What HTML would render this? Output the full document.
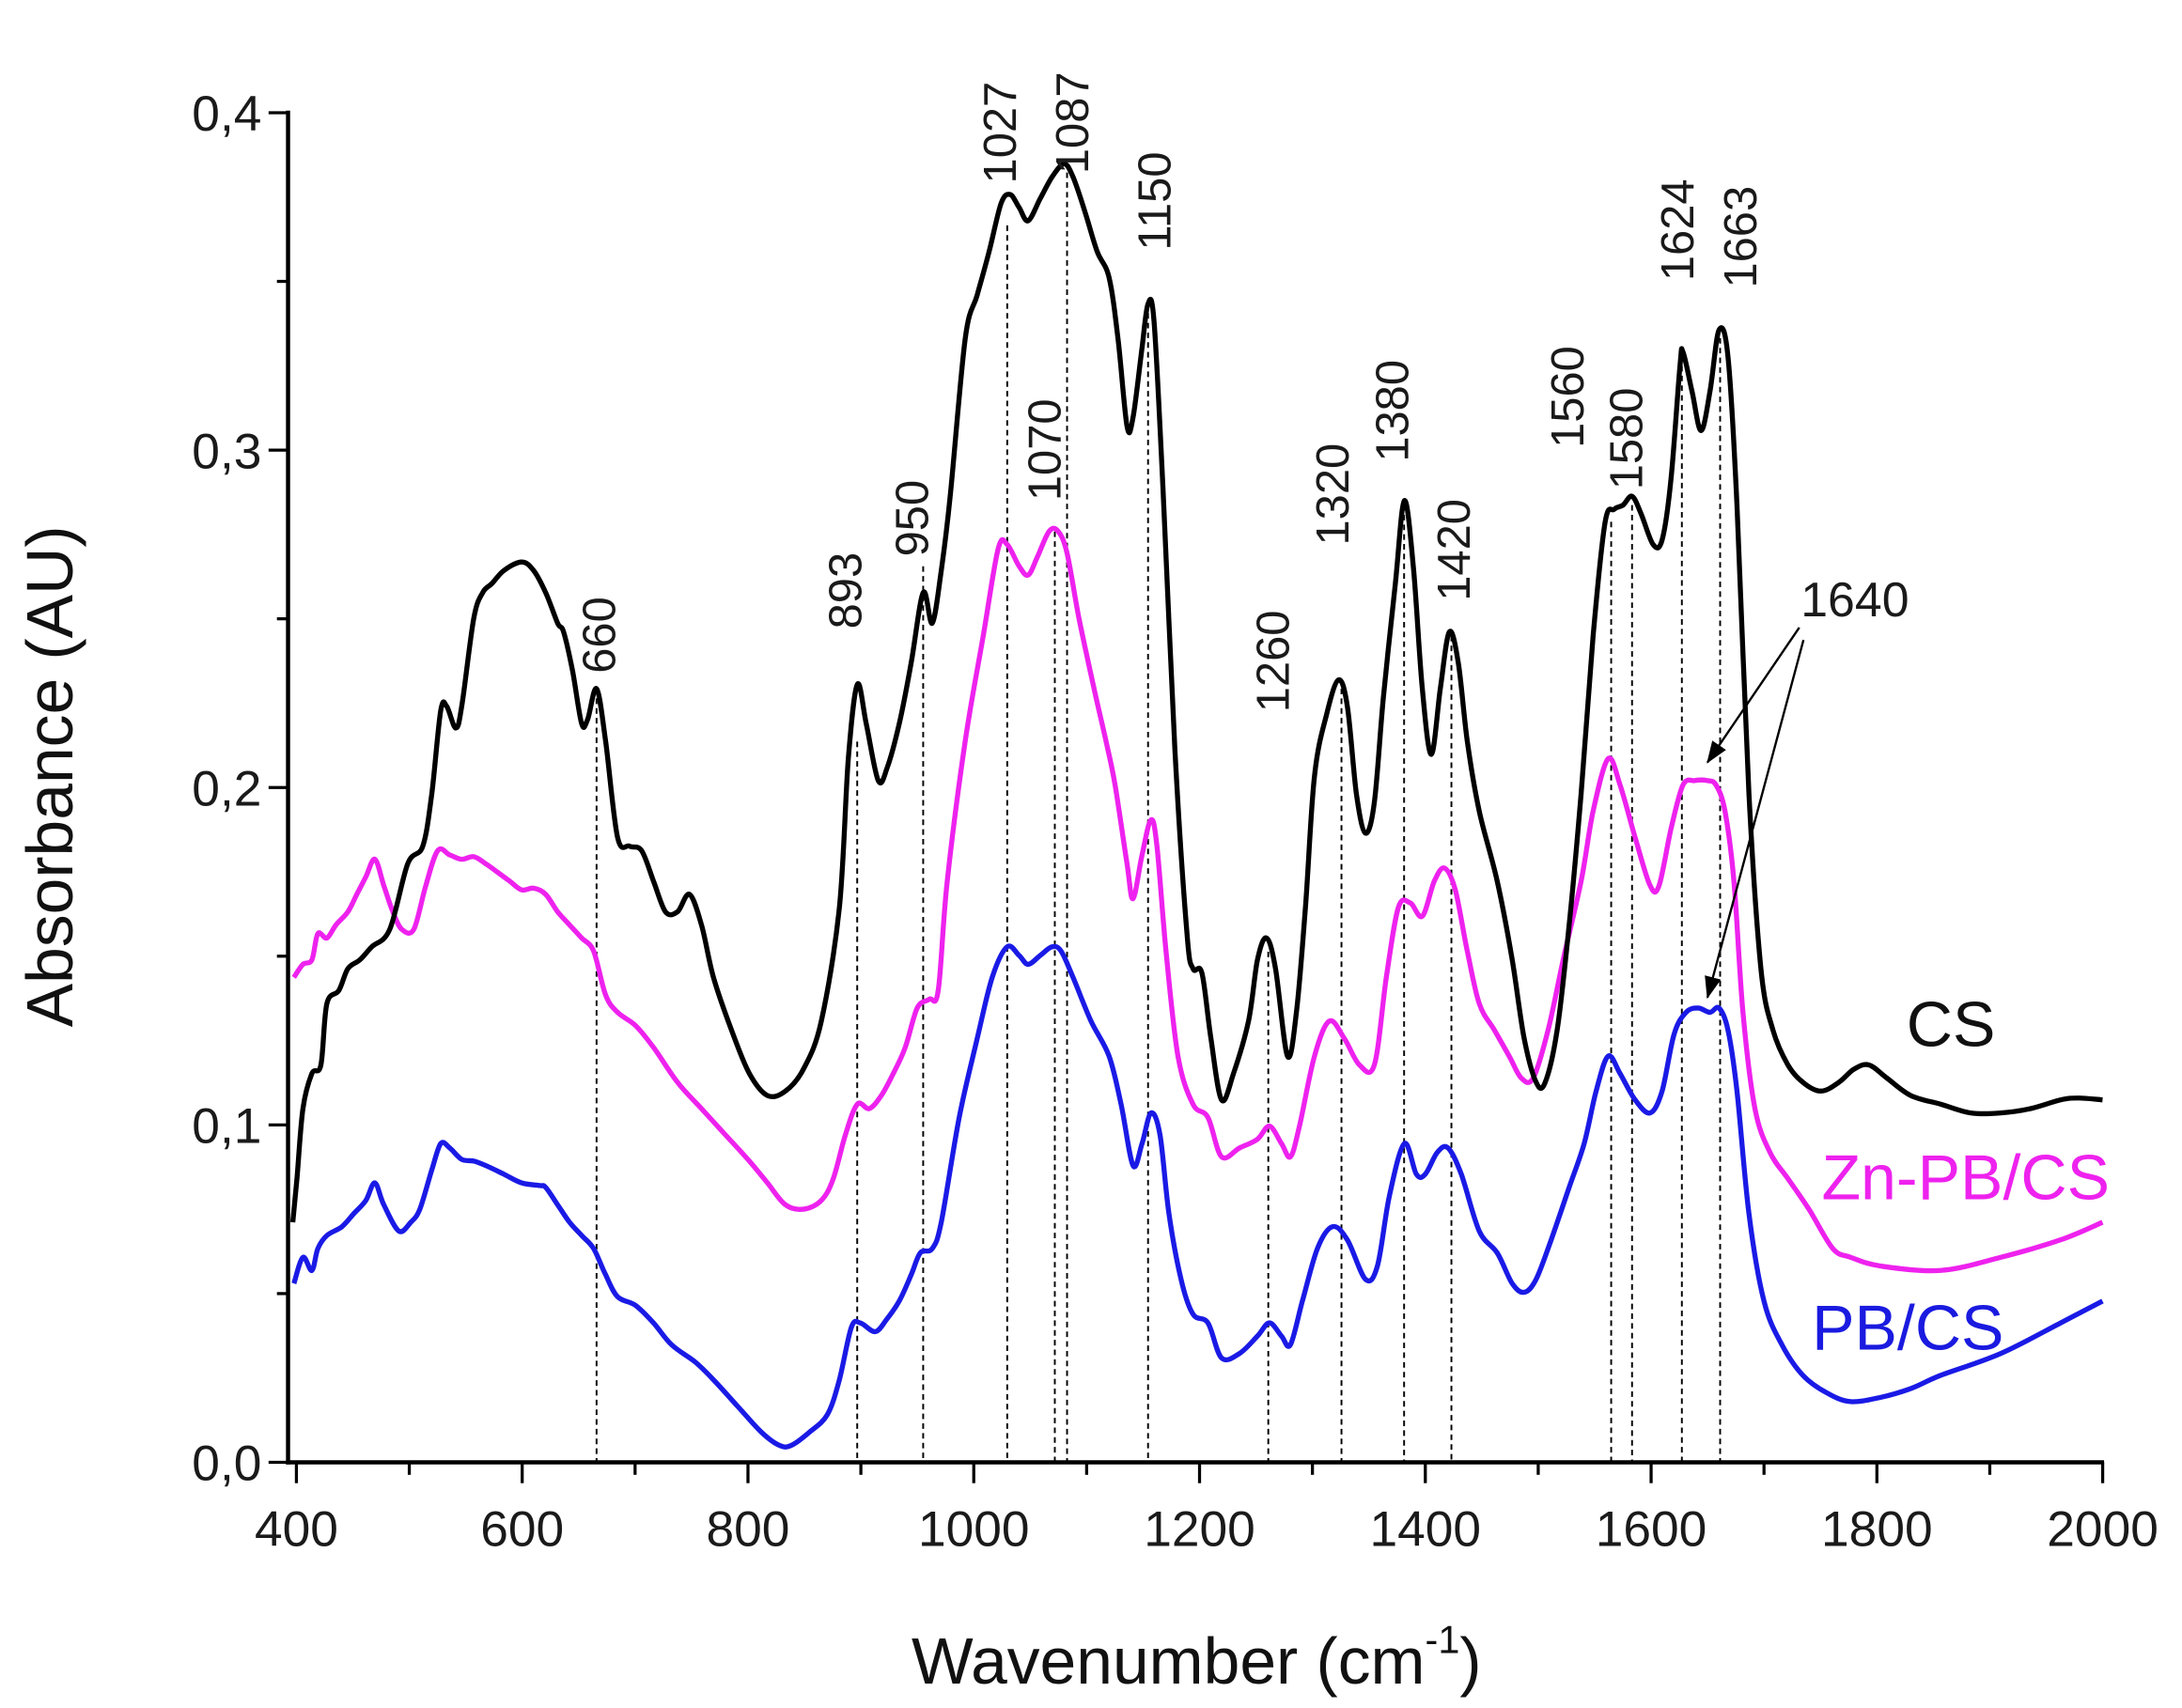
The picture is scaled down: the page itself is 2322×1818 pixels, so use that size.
<!DOCTYPE html>
<html><head><meta charset="utf-8"><style>
html,body{margin:0;padding:0;background:#fff;}
svg{display:block;}
text{font-family:"Liberation Sans",Arial,sans-serif;}
</style></head><body>
<svg id="s" width="2322" height="1818" viewBox="0 0 1568 1227.6" preserveAspectRatio="none" xmlns="http://www.w3.org/2000/svg">
<defs><marker id="ah2" markerWidth="16" markerHeight="14" refX="15" refY="7" orient="auto" markerUnits="userSpaceOnUse"><path d="M0,1 L16,7 L0,13 Z" fill="#000"/></marker></defs>
<g id="dash" stroke="#000" stroke-width="1.3" stroke-dasharray="4,3"></g>
<g id="curves" fill="none" stroke-width="3.6" stroke-linejoin="round"></g>
<g stroke="#000" stroke-width="3" fill="none">
<line x1="207" y1="79.5" x2="207" y2="1052.5"/>
<line x1="205.5" y1="1051" x2="1512" y2="1051"/>
</g>
<g id="ticks" stroke="#000" stroke-width="2.2"></g>
<g id="labels" font-size="36" fill="#1a1a1a"></g>
<g id="peaks" font-size="33" fill="#1a1a1a"></g>
<text x="1294" y="443" font-size="35" fill="#1a1a1a">1640</text>
<line x1="1293" y1="451" x2="1227" y2="548" stroke="#000" stroke-width="1.6" marker-end="url(#ah2)"/>
<line x1="1296" y1="460" x2="1227" y2="717" stroke="#000" stroke-width="1.6" marker-end="url(#ah2)"/>
<text x="1370" y="752" font-size="46" fill="#111">CS</text>
<text x="1309" y="862" font-size="46" fill="#ee22ee">Zn-PB/CS</text>
<text x="1302" y="970" font-size="46" fill="#1a1ae0">PB/CS</text>
<text transform="translate(52,558) rotate(-90)" text-anchor="middle" font-size="47" fill="#111">Absorbance (AU)</text>
<text x="655" y="1210" font-size="47" fill="#111">Wavenumber (cm<tspan dy="-22" font-size="28">-1</tspan><tspan dy="22">)</tspan></text>
</svg>
<script>
var NS="http://www.w3.org/2000/svg";
function el(t,a,p){var e=document.createElementNS(NS,t);for(var k in a)e.setAttribute(k,a[k]);p.appendChild(e);return e;}
function z3(p){return [202.6+p[0]*0.4307,67.5+p[1]*0.6287];}
function z4(p){return [877.8+p[0]*0.4307,67.5+p[1]*0.6287];}
function path(pts){var d="M"+pts[0][0].toFixed(1)+","+pts[0][1].toFixed(1);
for(var i=0;i<pts.length-1;i++){var p0=pts[i-1]||pts[i],p1=pts[i],p2=pts[i+1],p3=pts[i+2]||p2;
var c1=[p1[0]+(p2[0]-p0[0])/6,p1[1]+(p2[1]-p0[1])/6],c2=[p2[0]-(p3[0]-p1[0])/6,p2[1]-(p3[1]-p1[1])/6];
d+=" C"+c1[0].toFixed(1)+","+c1[1].toFixed(1)+" "+c2[0].toFixed(1)+","+c2[1].toFixed(1)+" "+p2[0].toFixed(1)+","+p2[1].toFixed(1);}
return d;}
var B3=[[18,1290],[25,1240],[35,1160],[50,1120],[65,1110],[75,1040],[95,1025],[110,1000],[130,990],[150,975],[180,955],[210,880],[235,860],[250,800],[265,705],[275,700],[290,725],[300,700],[320,600],[335,570],[350,560],[370,545],[400,535],[420,545],[440,570],[460,605],[470,615],[485,660],[500,720],[510,715],[525,680],[540,740],[560,850],[580,860],[600,865],[620,900],[640,935],[660,935],[680,915],[700,950],[720,1010],[750,1070],[780,1120],[810,1145],[840,1140],[870,1115],[900,1060],[930,930],[945,760],[960,675],[975,720],[995,785],[1010,770],[1030,720],[1050,650],[1070,570],[1085,605],[1100,545],[1115,460],[1140,280],[1160,230],[1180,180],[1200,125],[1215,115],[1230,130],[1245,145],[1265,120],[1285,95],[1305,80],[1320,95],[1340,135],[1360,180],[1380,210],[1395,280],[1410,380],[1420,370],[1435,290],[1445,240],[1455,260],[1470,450],[1490,750],[1510,960],[1520,1000],[1535,1005],[1550,1080]];
var B4=[[0,1150],[20,1120],[45,1060],[60,990],[75,965],[90,1000],[110,1100],[125,1050],[140,930],[155,780],[175,710],[195,670],[210,700],[225,800],[240,845],[255,810],[270,690],[290,560],[305,465],[320,540],[335,680],[350,755],[365,680],[380,615],[395,650],[410,740],[430,820],[460,900],[485,990],[505,1080],[525,1130],[540,1130],[560,1070],[580,950],[600,800],[620,620],[640,490],[655,475],[670,470],[685,460],[700,480],[720,515],[735,510],[750,440],[765,310],[770,295],[785,340],[800,385],[815,340],[830,270],[845,300],[860,470],[880,800],[900,1000],[920,1070],[945,1110],[970,1130],[1000,1140],[1030,1130],[1055,1115],[1080,1110],[1110,1125],[1150,1145],[1200,1155],[1250,1165],[1300,1165],[1350,1160],[1400,1150],[1430,1148],[1470,1150]];
var M3=[[20,1010],[35,995],[50,990],[60,960],[75,965],[90,950],[110,935],[125,915],[140,895],[155,875],[170,905],[185,935],[200,955],[220,955],[240,905],[260,865],[280,870],[300,875],[320,872],[340,880],[360,890],[380,900],[400,910],[420,908],[440,915],[460,935],[480,950],[500,965],[520,980],[540,1030],[560,1050],[590,1065],[620,1090],[660,1130],[700,1160],[740,1190],[780,1220],[810,1245],[840,1270],[870,1275],[900,1265],[920,1240],[940,1190],[960,1155],[980,1160],[1000,1145],[1020,1120],[1040,1090],[1060,1045],[1080,1035],[1095,1025],[1110,900],[1140,740],[1170,620],[1195,520],[1210,515],[1230,540],[1245,550],[1260,530],[1280,500],[1295,500],[1310,525],[1330,600],[1355,680],[1375,740],[1390,790],[1410,880],[1420,920],[1435,870],[1450,830],[1460,860],[1475,980],[1495,1100],[1520,1155],[1545,1170]];
var M4=[[0,1215],[30,1205],[60,1195],[80,1180],[100,1200],[115,1215],[130,1180],[155,1100],[180,1060],[205,1080],[230,1110],[255,1110],[275,1010],[295,930],[315,925],[335,940],[355,900],[372,885],[390,910],[410,980],[430,1040],[455,1070],[480,1100],[500,1125],[520,1125],[545,1070],[570,990],[600,900],[620,820],[645,760],[665,790],[690,850],[715,905],[730,905],[750,840],[770,790],[790,785],[810,785],[825,790],[840,820],[855,900],[870,1050],[890,1160],[915,1210],[945,1240],[980,1275],[1020,1320],[1050,1330],[1100,1340],[1200,1345],[1300,1330],[1400,1310],[1470,1290]];
var L3=[[20,1360],[35,1330],[50,1345],[60,1320],[75,1305],[100,1295],[120,1280],[140,1265],[155,1245],[170,1270],[195,1300],[215,1290],[230,1275],[250,1230],[265,1200],[280,1205],[300,1218],[320,1220],[340,1225],[370,1235],[400,1245],[430,1248],[440,1250],[460,1270],[480,1290],[500,1305],[520,1320],[540,1350],[560,1375],[590,1385],[620,1405],[650,1430],[690,1450],[720,1470],[760,1500],[800,1530],[830,1545],[850,1545],[880,1530],[910,1510],[930,1470],[950,1410],[965,1405],[990,1415],[1010,1400],[1030,1380],[1050,1350],[1065,1325],[1085,1320],[1100,1290],[1130,1170],[1160,1080],[1185,1010],[1210,975],[1230,985],[1245,995],[1265,985],[1285,975],[1300,980],[1320,1010],[1350,1060],[1380,1100],[1400,1155],[1420,1225],[1435,1200],[1450,1165],[1465,1190],[1480,1280],[1500,1355],[1520,1395],[1545,1405]];
var L4=[[0,1445],[30,1440],[60,1420],[80,1405],[100,1420],[115,1430],[135,1380],[160,1320],[185,1295],[210,1310],[240,1355],[260,1340],[280,1260],[305,1200],[325,1235],[340,1235],[360,1210],[378,1205],[400,1235],[430,1300],[460,1325],[485,1360],[505,1370],[525,1355],[550,1310],[580,1250],[605,1200],[625,1140],[645,1100],[665,1120],[690,1150],[715,1165],[735,1140],[755,1075],[775,1050],[795,1045],[815,1050],[830,1045],[845,1070],[860,1140],[880,1280],[905,1380],[935,1430],[970,1465],[1010,1485],[1050,1495],[1100,1490],[1150,1480],[1200,1465],[1300,1440],[1400,1405],[1470,1380]];
var cv=document.getElementById("curves");
[[L3,L4,"#1a1ae6"],[M3,M4,"#ee22ee"],[B3,B4,"#000"]].forEach(function(s){
var pts=s[0].map(z3).concat(s[1].map(z4));el("path",{d:path(pts),stroke:s[2]},cv);});
var dg=document.getElementById("dash");
[[428.7,495],[616,533],[663.4,407],[723.8,162],[758,382],[766.8,124],[825,218],[911.4,684],[964,495],[1009,363],[1043,457],[1157.8,375],[1172.8,363],[1208.6,256],[1236.1,243]].forEach(function(d){
el("line",{x1:d[0],y1:d[1],x2:d[0],y2:1050},dg);});
var tk=document.getElementById("ticks"),lb=document.getElementById("labels");
for(var w=400;w<=2000;w+=100){var x=213+(w-400)*0.81125;var maj=(w%200==0);
el("line",{x1:x,y1:1051,x2:x,y2:1051+(maj?15:9)},tk);
if(maj){var t=el("text",{x:x,y:1111,"text-anchor":"middle"},lb);t.textContent=w;}}
for(var i=0;i<=8;i++){var y=1051-i*121.25;var maj=(i%2==0);
el("line",{x1:207,y1:y,x2:207-(maj?14:8),y2:y},tk);
if(maj){var t=el("text",{x:188,y:y+13,"text-anchor":"end"},lb);t.textContent="0,"+(i/2);}}
var pg=document.getElementById("peaks");
[["660",430,484],["893",607,452],["950",655,400],["1027",718,132],["1087",770,125],["1070",750,360],["1150",829,180],["1260",914,512],["1320",957,392],["1380",1000,332],["1420",1044,432],["1560",1126,322],["1580",1168,352],["1624",1205,202],["1663",1250,207]].forEach(function(p){
var t=el("text",{transform:"translate("+(p[1]+12)+","+p[2]+") rotate(-90)"},pg);t.textContent=p[0];});
</script>
</body></html>
